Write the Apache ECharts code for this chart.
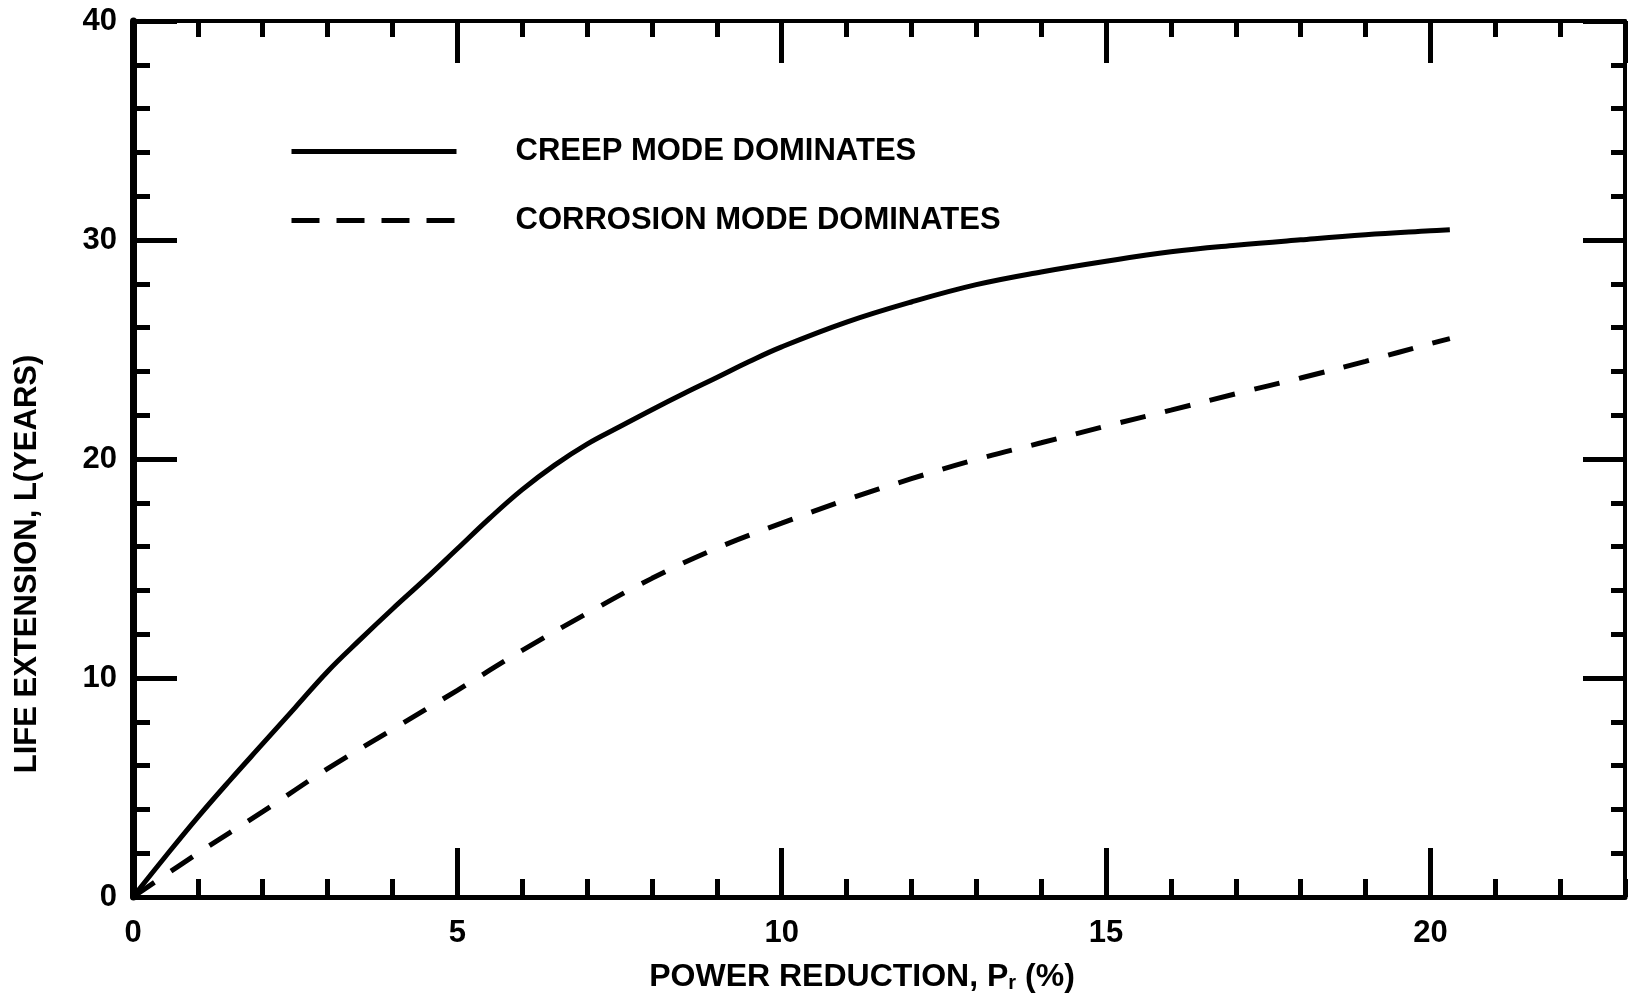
<!DOCTYPE html>
<html><head><meta charset="utf-8">
<script src="https://cdn.jsdelivr.net/npm/echarts@6/dist/echarts.min.js"></script>
<style>html,body{margin:0;padding:0;background:#fff}#c{width:1640px;height:998px}</style>
</head><body><div id="c"></div>
<script>
// ---- data ----
const creepX = [0, 0.5, 1, 1.5, 2, 2.5, 3, 3.5, 4, 4.5, 5, 5.5, 6, 6.5, 7, 7.5, 8, 8.5, 9, 9.5, 10, 11, 12, 13, 14, 15, 16, 17, 18, 19, 20, 20.3];
const creepY = [0, 1.85, 3.65, 5.35, 7.0, 8.65, 10.3, 11.75, 13.15, 14.5, 15.9, 17.3, 18.6, 19.72, 20.68, 21.47, 22.25, 23.0, 23.72, 24.45, 25.12, 26.25, 27.17, 27.96, 28.54, 29.03, 29.46, 29.76, 30.01, 30.24, 30.42, 30.47];
const corrX = [0, 1, 2, 3, 4, 5, 6, 7, 8, 9, 10, 11, 12, 13, 14, 15, 16, 17, 18, 19, 20, 20.3];
const corrY = [0, 2.0, 3.9, 5.86, 7.65, 9.44, 11.26, 12.95, 14.55, 15.93, 17.07, 18.14, 19.1, 19.98, 20.74, 21.5, 22.23, 22.98, 23.7, 24.46, 25.27, 25.5];
const seriesNames = ['CREEP MODE DOMINATES', 'CORROSION MODE DOMINATES'];
const xRange = [0, 23];
const yRange = [0, 40];
const xMajorStep = 5, xMinorStep = 1, yMajorStep = 10, yMinorStep = 2;
const xTitle = '{a|POWER REDUCTION, P}{s|r}{a| (%)}';
const yTitle = 'LIFE EXTENSION, L(YEARS)';

const FONT = '"Liberation Sans", Arial, sans-serif';
const BLACK = '#000';

function pairs(xs, ys) { return xs.map((x, i) => [x, ys[i]]); }

function xAx(pos, step, tickLen, lineW, showLine, labels) {
  return {
    type: 'value', position: pos, min: xRange[0], max: xRange[1], interval: step,
    axisLine: { show: showLine, onZero: false, lineStyle: { color: BLACK, width: lineW } },
    axisTick: { show: true, inside: true, length: tickLen, lineStyle: { color: BLACK, width: 5 } },
    axisLabel: labels ? { show: true, showMaxLabel: false, margin: 21, fontSize: 31, fontWeight: 'bold', color: BLACK, fontFamily: FONT } : { show: false },
    splitLine: { show: false }
  };
}
function yAx(pos, step, tickLen, lineW, showLine, labels) {
  return {
    type: 'value', position: pos, min: yRange[0], max: yRange[1], interval: step,
    axisLine: { show: showLine, onZero: false, lineStyle: { color: BLACK, width: lineW } },
    axisTick: { show: true, inside: true, length: tickLen, lineStyle: { color: BLACK, width: 5 } },
    axisLabel: labels ? { show: true, margin: 16, fontSize: 31, fontWeight: 'bold', color: BLACK, fontFamily: FONT } : { show: false },
    splitLine: { show: false }
  };
}

const xMain = xAx('bottom', xMajorStep, 49, 5, true, true);
xMain.name = xTitle;
xMain.nameLocation = 'middle';
xMain.nameGap = 64;
xMain.nameTextStyle = {
  padding: [0, 34, 0, 0],
  rich: {
    a: { fontSize: 32, fontWeight: 'bold', color: BLACK, fontFamily: FONT },
    s: { fontSize: 20, fontWeight: 'bold', color: BLACK, fontFamily: FONT, verticalAlign: 'bottom' }
  }
};
const yMain = yAx('left', yMajorStep, 44, 7, true, true);
yMain.name = yTitle;
yMain.nameLocation = 'middle';
yMain.nameGap = 90;
yMain.nameTextStyle = { fontSize: 31, fontWeight: 'bold', color: BLACK, fontFamily: FONT, padding: [0, 210, 0, 0] };

const chart = echarts.init(document.getElementById('c'), null, { renderer: 'canvas' });
chart.setOption({
  backgroundColor: '#fff',
  animation: false,
  grid: { left: 133, right: 15, top: 21, bottom: 96, containLabel: false },
  xAxis: [
    xMain,
    xAx('bottom', xMinorStep, 18, 5, false, false),
    xAx('top', xMajorStep, 42, 4, true, false),
    xAx('top', xMinorStep, 16, 4, false, false)
  ],
  yAxis: [
    yMain,
    yAx('left', yMinorStep, 17, 7, false, false),
    yAx('right', yMajorStep, 42, 4, true, false),
    yAx('right', yMinorStep, 14, 4, false, false)
  ],
  legend: {
    left: 284, top: 131, orient: 'vertical',
    itemWidth: 165, itemHeight: 30, itemGap: 38,
    selectedMode: false,
    itemStyle: { opacity: 0, color: 'rgba(0,0,0,0)', borderWidth: 0 },
    lineStyle: { width: 5, color: BLACK },
    textStyle: { fontSize: 31, fontWeight: 'bold', color: BLACK, fontFamily: FONT, padding: [0, 0, 0, 54] },
    data: [
      { name: seriesNames[0] },
      { name: seriesNames[1], lineStyle: { type: [28, 17], width: 5, color: BLACK } }
    ]
  },
  series: [
    {
      name: seriesNames[0], type: 'line', xAxisIndex: 0, yAxisIndex: 0,
      data: pairs(creepX, creepY), showSymbol: false, symbol: 'none',
      smooth: 0.4,
      lineStyle: { color: BLACK, width: 5, type: 'solid' }, itemStyle: { color: BLACK }
    },
    {
      name: seriesNames[1], type: 'line', xAxisIndex: 0, yAxisIndex: 0,
      data: pairs(corrX, corrY), showSymbol: false, symbol: 'none',
      smooth: 0.4,
      lineStyle: { color: BLACK, width: 5, type: [26, 20] }, itemStyle: { color: BLACK }
    }
  ]
});
</script>
</body></html>
